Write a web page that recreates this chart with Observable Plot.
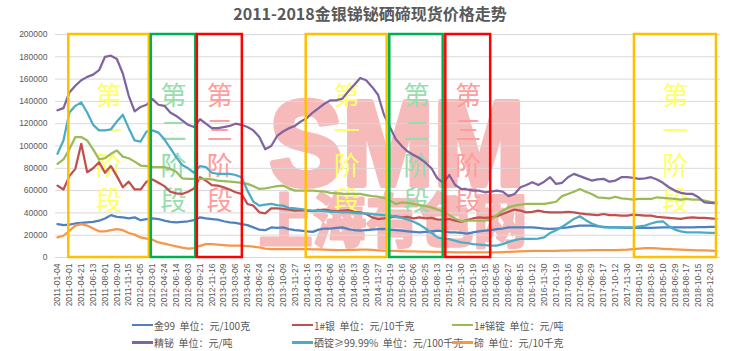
<!DOCTYPE html>
<html><head><meta charset="utf-8">
<script src="https://cdn.jsdelivr.net/npm/d3@7"></script>
<script src="https://cdn.jsdelivr.net/npm/@observablehq/plot@0.6"></script>
<style>
body{margin:0;background:#fff;}
#wrap{position:relative;width:737px;height:351px;overflow:hidden;background:#fff;}
#title{position:absolute;left:0;top:3px;width:740px;text-align:center;font-family:"Noto Sans CJK SC",sans-serif;font-weight:bold;font-size:16px;line-height:20px;color:#595959;}
#chart{position:absolute;left:0;top:22px;}
.lg{position:absolute;display:flex;align-items:center;height:14px;font-family:"Noto Sans CJK SC",sans-serif;font-size:10px;color:#595959;white-space:pre;}
.lg i{display:inline-block;width:21px;height:2.5px;margin-right:1px;}
</style></head>
<body><div id="wrap"><div id="title">2011-2018金银锑铋硒碲现货价格走势</div><div id="chart"></div></div>
<script>
const tickLabels = ["2011-01-04","2011-03-01","2011-04-21","2011-06-13","2011-08-01","2011-09-20","2011-11-15","2012-01-05","2012-03-01","2012-04-24","2012-06-14","2012-08-03","2012-09-21","2012-11-16","2013-01-09","2013-03-06","2013-04-26","2013-06-24","2013-08-12","2013-10-09","2013-11-27","2014-01-16","2014-03-13","2014-05-06","2014-06-25","2014-08-13","2014-10-09","2014-11-27","2015-01-19","2015-03-16","2015-05-06","2015-06-25","2015-08-13","2015-10-12","2015-11-30","2016-01-19","2016-03-15","2016-05-05","2016-06-27","2016-08-15","2016-10-12","2016-11-30","2017-01-19","2017-03-16","2017-05-09","2017-06-29","2017-08-17","2017-10-12","2017-11-30","2018-01-19","2018-03-16","2018-05-10","2018-06-29","2018-08-17","2018-10-15","2018-12-03"];
const yTicks = [0,20000,40000,60000,80000,100000,120000,140000,160000,180000,200000];
const seriesNames = ["金99  单位：元/100克","1#银  单位：元/10千克","1#锑锭  单位：元/吨","精铋  单位：元/吨","硒锭≥99.99%  单位：元/100千克","碲  单位：元/10千克"];
const seriesColors = ["#4F81BD","#C0504D","#9BBB59","#8064A2","#4BACC6","#F79646"];
// values sampled every half tick-label step
const gold99 = [30000,29000,29500,30500,31000,31500,32000,33000,35000,38000,
36500,36000,35000,36000,33500,34500,35000,34500,33000,32000,
31500,32000,32500,33500,36000,35000,34500,34000,32500,31500,
31000,30000,29000,27000,25000,24500,27000,26500,27000,25500,
24500,24000,23500,23000,25000,26000,26000,26500,27000,25500,
24500,24000,24500,25000,25500,25600,25000,24500,24000,23500,
23000,22600,23000,23500,24000,23500,22600,22500,22000,21500,
22600,23500,24000,24500,25500,26000,27000,27000,27000,27000,
27000,26500,26000,25600,26000,26500,27000,28000,28600,28600,
28500,28000,27500,27000,27000,26800,26500,26500,26500,26500,
26500,26800,27000,27000,27000,27000,27000,27000,27200,27300,
27500,27500];
const silver = [64500,61000,73000,79500,102000,76500,80000,85500,76000,82000,
73000,63000,68000,61000,61000,68000,70000,67000,64000,59000,
57500,57000,59000,62000,72000,69000,65000,64500,63000,61000,
58500,57000,48000,46500,40500,39500,44000,44000,43500,43000,
42000,42500,42000,41500,42500,43000,42000,41500,42000,42500,
41000,40500,39000,36000,34500,35000,36000,37000,36000,36500,
35000,36000,35000,35500,34000,34000,34500,33000,32000,33500,
35000,36000,35500,36000,37000,39000,41000,43000,42000,40500,
41000,42000,41000,40500,40500,40500,41000,40500,39500,39000,
38500,38000,39000,38000,38000,37500,37600,38500,38000,37500,
37600,36500,36000,35500,35000,34600,35500,36000,35500,35500,
35000,34600];
const antimony = [84000,88000,97000,108000,108000,105000,97000,88000,89000,93000,
96000,90500,89000,86000,82500,82000,81000,81000,81000,79500,
77000,71000,70500,70500,70500,70500,70000,69000,68500,68000,
67500,67000,66000,64000,61500,62000,63000,64000,64500,62000,
60000,60000,60000,60000,59500,59000,58000,57500,57000,57000,
57000,57000,56000,55000,54500,53500,51000,48000,49500,49000,
48000,47000,46000,45000,43000,41000,38000,35000,32500,33000,
33000,33000,33000,34000,38000,42000,45000,46500,47500,48000,
48000,48000,48000,49000,50000,55000,57000,59000,61500,59000,
57000,54000,53500,53000,54500,53000,52500,52000,52500,52500,
52500,54000,53500,53000,52500,52000,52500,52000,52000,51000,
50000,49500];
const bismuth = [132000,134000,148000,154000,159000,162000,164000,168000,180000,181000,
178000,165000,145000,131000,135000,137000,142000,137000,136000,130000,
127000,123000,119000,117000,124000,120000,116000,116000,117000,118000,
120000,119000,117000,114000,108000,97000,100000,109000,113000,116000,
118000,122000,125000,130000,134000,138000,141000,141000,142500,149000,
155000,161000,159000,153000,146000,128000,117000,106000,100000,95000,
92000,89000,85000,80000,71000,67000,74000,65000,61500,61000,
60000,60000,58500,59000,60000,59000,55000,57000,63000,65000,
67500,65000,68000,72000,66000,67000,72000,75000,73000,71000,
69000,70000,70500,68000,69000,72000,72000,71500,70500,71000,
72000,70000,67000,63000,60000,58000,57000,57000,54000,49500,
49000,48500];
const selenium = [93000,105000,130000,136000,139000,130000,119000,114000,114000,115000,
122000,128000,116000,105000,104000,113000,114000,112000,106000,98000,
90000,83000,80000,76000,82000,81000,76000,75000,75000,75000,
74000,72000,60000,50000,46500,47500,48000,47000,46500,44500,
44000,43500,42500,42000,42000,41500,41000,41000,40500,40500,
40000,39500,39500,39000,38500,38000,37500,36500,35500,34000,
32000,29500,26000,22000,18000,17000,16500,15000,13600,13000,
12000,11500,11000,10600,10600,12000,14000,15500,16600,16600,
16600,17000,18000,22000,24500,27500,31000,34600,37000,33500,
30500,28500,27000,27000,27000,27000,27000,27000,28000,28600,
30500,32000,32500,28000,25000,23500,22600,22600,22500,22300,
22000,22000];
const tellurium = [18000,19500,24000,28600,30000,28600,26000,23500,23500,24500,
25500,24500,22000,20500,18000,17000,16000,13500,12500,11200,
10000,8800,8000,8500,10500,12000,12000,11500,11000,10600,
10600,10600,10200,9700,9000,8000,7600,7600,7600,7600,
7600,7500,7400,7300,7200,7000,6800,6700,6700,6800,
6900,7000,7000,6800,6500,6200,6000,6000,5800,5600,
5400,5200,5200,5100,5000,4900,4800,4700,4600,4600,
4600,4600,4600,4600,4600,4800,5000,5300,5600,5800,
6000,6000,6000,6000,6000,6100,6200,6300,6400,6500,
6600,6700,6700,6700,6700,6800,7000,7500,8000,8300,
8500,8200,7800,7500,7200,7000,6800,6700,6500,6300,
6100,6000];
// stage boxes (in tick-label index units)
const stageStart = [0.95, 7.9, 11.78, 20.95, 27.99, 32.71, 48.6];
const stageEnd = [7.73, 11.65, 15.57, 27.77, 32.49, 36.49, 55.51];
const stageStroke = ["#FFC000","#00B050","#FF0000","#FFC000","#00B050","#FF0000","#FFC000"];
const stageText = ["第\n一\n阶\n段","第\n二\n阶\n段","第\n三\n阶\n段","第\n一\n阶\n段","第\n二\n阶\n段","第\n三\n阶\n段","第\n一\n阶\n段"];
const stageTextColor = ["#FFFF66","#98DDAC","#FF9C9C","#FFFF66","#98DDAC","#FF9C9C","#FFFF66"];

const seriesData = [gold99, silver, antimony, bismuth, selenium, tellurium];
const xPos = d3.range(gold99.length).map(k => k / 2);
const stages = stageStart.map((s, i) => ({start: s, end: stageEnd[i], stroke: stageStroke[i], label: stageText[i], tc: stageTextColor[i]}));

const plot = Plot.plot({
  width: 737, height: 293,
  marginLeft: 55, marginRight: 17, marginTop: 12, marginBottom: 58,
  style: {fontFamily: "'Liberation Sans', Arial, sans-serif", color: "#595959", background: "transparent"},
  x: {type: "linear", domain: [-0.17, 55.85], axis: null},
  y: {domain: [0, 200000], axis: null},
  color: {type: "identity"},
  marks: [
    Plot.text(["SMM"], {frameAnchor: "top-left", dx: 341.5, dy: 65, textAnchor: "middle", lineAnchor: "top", fontSize: 120, fontWeight: "bold", fontFamily: "'Liberation Sans', Arial", fill: "#F4A3A3", stroke: "#F4A3A3", strokeWidth: 6, strokeLinejoin: "round", opacity: 0.75, className: "wm-a"}),
    Plot.text(["上海有色网"], {frameAnchor: "top-left", dx: 337.5, dy: 189, textAnchor: "middle", lineAnchor: "middle", fontSize: 58, fontWeight: "bold", fontFamily: "'Noto Sans CJK SC'", fill: "#F4A3A3", stroke: "#F4A3A3", strokeWidth: 3, strokeLinejoin: "round", opacity: 0.75, className: "wm-b"}),
    Plot.gridY(yTicks, {stroke: "#D9D9D9", strokeOpacity: 1}),
    Plot.axisY(yTicks, {tickSize: 0, tickPadding: 8, tickFormat: d3.format("d"), label: null, fontSize: 8.5}),
    Plot.axisX(tickLabels.map((_, i) => i), {tickSize: 0, tickPadding: 6, tickRotate: -90, tickFormat: i => tickLabels[i], label: null, fontSize: 8.5}),
    Plot.text(stages, {x: d => (d.start + d.end) / 2, y: d => 99500, text: "label", fill: "tc", fontSize: 26, lineHeight: 1.35, lineAnchor: "middle", fontFamily: "'Noto Sans CJK SC'"}),
    ...seriesData.map((vals, s) => Plot.line(vals.map((v, k) => ({x: xPos[k], y: v})), {x: "x", y: "y", stroke: seriesColors[s], strokeWidth: 2.25})),
    Plot.rect(stages, {x1: "start", x2: "end", y1: d => 0, y2: d => 200000, fill: "none", stroke: "stroke", strokeWidth: 2.5})
  ]
});
d3.select(plot).selectAll(".wm-a text").attr("textLength", 255).attr("lengthAdjust", "spacingAndGlyphs");
d3.select(plot).selectAll(".wm-b text").attr("textLength", 268).attr("lengthAdjust", "spacingAndGlyphs");
document.getElementById("chart").appendChild(plot);

const wrap = document.getElementById("wrap");
seriesNames.forEach((name, i) => {
  const col = i % 3, row = Math.floor(i / 3);
  const el = document.createElement("div");
  el.className = "lg";
  el.style.left = (132 + col * 160) + "px";
  el.style.top = (318 + row * 17.5) + "px";
  el.innerHTML = `<i style="background:${seriesColors[i]}"></i>`;
  el.appendChild(document.createTextNode(name));
  wrap.appendChild(el);
});
</script></body></html>
